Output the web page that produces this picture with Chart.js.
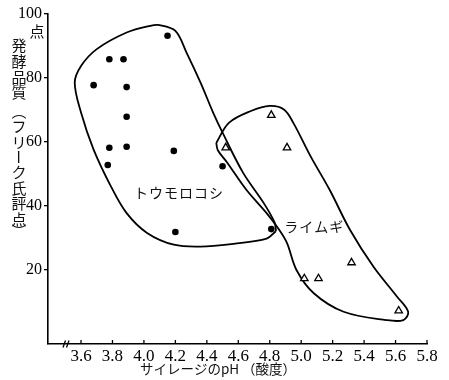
<!DOCTYPE html>
<html><head><meta charset="utf-8">
<script src="https://cdn.jsdelivr.net/npm/chart.js@4/dist/chart.umd.min.js"></script>
<style>html,body{margin:0;padding:0;background:#fff}#wrap{width:449px;height:380px}</style>
</head><body><div id="wrap"><canvas id="c" width="449" height="380"></canvas></div>
<script>
// ---- data ----
const xTicks = [3.6, 3.8, 4.0, 4.2, 4.4, 4.6, 4.8, 5.0, 5.2, 5.4, 5.6, 5.8];
const yTicks = [20, 40, 60, 80, 100];

// トウモロコシ (corn) silage: pH vs quality score
const cornPH    = [4.15, 3.78, 3.87, 3.68, 3.89, 3.89, 3.78, 3.89, 4.19, 3.77, 4.50, 4.20, 4.81];
const cornScore = [93.2, 85.8, 85.8, 77.7, 77.1, 67.8, 58.1, 58.4, 57.1, 52.7, 52.3, 31.7, 32.6];

// ライムギ (rye) silage
const ryePH    = [4.81, 4.52, 4.91, 5.32, 5.02, 5.11, 5.62];
const ryeScore = [68.3, 58.1, 58.1, 22.1, 17.1, 17.1, 7.0];

// hand-drawn group outlines
const cornOutlinePH    = [4.84, 4.78, 4.57, 4.36, 4.19, 4.02, 3.89, 3.79, 3.68, 3.60, 3.56, 3.60, 3.70, 3.89, 4.04, 4.10, 4.20, 4.27, 4.36, 4.44, 4.50, 4.63, 4.76, 4.83, 4.84];
const cornOutlineScore = [32.0, 29.6, 28.0, 27.1, 27.7, 31.4, 37.6, 46.0, 57.5, 69.1, 78.5, 83.7, 89.0, 94.2, 96.3, 96.5, 94.7, 88.0, 78.5, 69.1, 62.8, 50.3, 40.9, 34.8, 32.0];
const ryeOutlinePH    = [4.46, 4.54, 4.68, 4.80, 4.89, 4.95, 5.06, 5.18, 5.31, 5.46, 5.61, 5.68, 5.65, 5.54, 5.27, 5.08, 4.97, 4.91, 4.86, 4.78, 4.65, 4.53, 4.47, 4.46];
const ryeOutlineScore = [59.6, 65.9, 69.6, 71.2, 70.1, 65.9, 55.4, 45.0, 32.4, 20.8, 11.4, 6.7, 4.1, 4.1, 6.7, 12.5, 19.8, 28.2, 32.4, 37.6, 45.0, 53.4, 57.3, 59.6];

const groupNames = ['トウモロコシ', 'ライムギ'];
const groupLabelPH = [4.22, 5.08];
const groupLabelScore = [44.0, 33.3];

const xTitle = 'サイレージのpH （酸度）';
const yTitleChars = ['発','酵','品','質','︵','フ','リ','ー','ク','氏','評','点','︶'];
const yUnit = '点';

// ---- build ----
const pts = (xs, ys) => xs.map((v, i) => ({x: v, y: ys[i]}));
const INK = '#000';

const deco = {
  id: 'deco',
  afterDraw(chart) {
    const {ctx, chartArea: a, scales: {x, y}} = chart;
    ctx.save();
    ctx.strokeStyle = INK; ctx.lineWidth = 1.3;
    // inward x ticks
    xTicks.forEach(v => {
      const px = x.getPixelForValue(v);
      ctx.beginPath(); ctx.moveTo(px, a.bottom); ctx.lineTo(px, a.bottom - 4); ctx.stroke();
    });
    // axis break mark
    [0, 3.5].forEach(d => {
      ctx.beginPath(); ctx.moveTo(a.left + 15 + d, a.bottom + 3.5); ctx.lineTo(a.left + 17.5 + d, a.bottom - 3.5); ctx.stroke();
    });
    // group labels
    ctx.fillStyle = '#111';
    ctx.font = '14px "Noto Sans CJK JP"';
    ctx.textAlign = 'center'; ctx.textBaseline = 'middle';
    groupNames.forEach((name, i) => {
      const cx = x.getPixelForValue(groupLabelPH[i]);
      const cy = y.getPixelForValue(groupLabelScore[i]);
      const chars = [...name];
      const step = 15;
      const start = cx - (chars.length - 1) * step / 2;
      chars.forEach((c, j) => ctx.fillText(c, start + j * step, cy));
    });
    // x title
    ctx.font = '13.5px "Noto Sans CJK JP"';
    ctx.fillText(xTitle, 218, 369);
    // y unit and vertical y title
    ctx.font = '15px "Noto Sans CJK JP"';
    ctx.fillText(yUnit, 37, 31);
    const ys = [45, 61, 77, 92, 111, 126, 142, 157, 172, 188, 203, 219, 231];
    yTitleChars.forEach((c, i) => {
      if (c === 'ー') {
        ctx.save(); ctx.translate(19, ys[i]); ctx.rotate(Math.PI / 2); ctx.fillText(c, 0, 0); ctx.restore();
      } else {
        ctx.fillText(c, 19, ys[i]);
      }
    });
    ctx.restore();
  }
};

new Chart(document.getElementById('c'), {
  type: 'scatter',
  data: {
    datasets: [
      {label: 'トウモロコシ', data: pts(cornPH, cornScore), pointStyle: 'circle', pointRadius: 3.3, backgroundColor: INK, borderColor: INK, borderWidth: 0},
      {label: 'ライムギ', data: pts(ryePH, ryeScore), pointStyle: 'triangle', pointRadius: 4.3, backgroundColor: '#fff', borderColor: INK, borderWidth: 1.3},
      {type: 'line', data: pts(cornOutlinePH, cornOutlineScore), showLine: true, fill: false, tension: 0.35, borderColor: INK, borderWidth: 1.8, pointRadius: 0},
      {type: 'line', data: pts(ryeOutlinePH, ryeOutlineScore), showLine: true, fill: false, tension: 0.35, borderColor: INK, borderWidth: 1.8, pointRadius: 0}
    ]
  },
  options: {
    responsive: false,
    animation: false,
    devicePixelRatio: 1,
    layout: {padding: {top: 14, right: 22, left: 0, bottom: 0}},
    plugins: {legend: {display: false}, tooltip: {enabled: false}},
    scales: {
      x: {
        type: 'linear', min: 3.39, max: 5.8,
        afterBuildTicks: s => { s.ticks = xTicks.map(v => ({value: v})); },
        afterFit: s => { s.height = 36; },
        grid: {display: false, drawTicks: false},
        border: {display: true, color: INK, width: 1.6},
        ticks: {padding: 2, color: '#000', font: {family: '"Liberation Serif"', size: 17}, callback: v => Number(v).toFixed(1), maxRotation: 0, autoSkip: false}
      },
      y: {
        type: 'linear', min: -3.4, max: 100,
        afterBuildTicks: s => { s.ticks = yTicks.map(v => ({value: v})); },
        afterFit: s => { s.width = 48; },
        grid: {display: true, drawOnChartArea: false, drawTicks: true, tickLength: 4, color: INK, lineWidth: 1.3},
        border: {display: true, color: INK, width: 1.6},
        ticks: {padding: 2, color: '#000', font: {family: '"Liberation Serif"', size: 16}, callback: v => String(v), autoSkip: false}
      }
    }
  },
  plugins: [deco]
});
</script>
</body></html>
